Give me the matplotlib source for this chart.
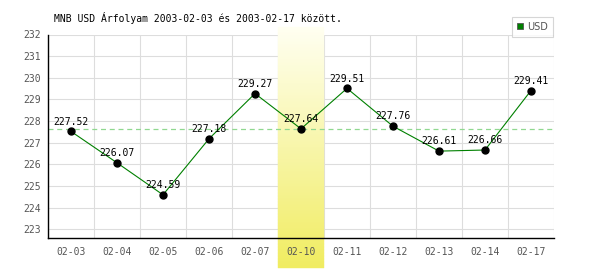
import matplotlib
matplotlib.use("Agg")
import matplotlib.pyplot as plt
import numpy as np
from matplotlib.lines import Line2D
from matplotlib.patches import Rectangle

dates = ["02-03", "02-04", "02-05", "02-06", "02-07", "02-10",
         "02-11", "02-12", "02-13", "02-14", "02-17"]
values = [227.52, 226.07, 224.59, 227.18, 229.27, 227.64,
          229.51, 227.76, 226.61, 226.66, 229.41]
highlight_index = 5
yticks = [223, 224, 225, 226, 227, 228, 229, 230, 231, 232]
title = "MNB USD Árfolyam 2003-02-03 és 2003-02-17 között."
series_name = "USD"

mono = "DejaVu Sans Mono"
W, H = 600, 270
fig = plt.figure(figsize=(6, 2.7), dpi=100)
ax = fig.add_axes([48 / W, 1 - 238.3 / H, (554 - 48) / W, (238.3 - 34.5) / H])

x = np.arange(len(dates))
ymin, ymax = 222.58, 232.0

# gridlines drawn manually, below the band
for t in yticks:
    ax.axhline(t, color="#dddddd", lw=0.8, zorder=0.5)
for b in np.arange(-0.5, len(dates)):
    ax.axvline(b, color="#dddddd", lw=0.8, zorder=0.5)

# highlight band with vertical gradient (strips), extends beyond the axes
band_top, band_bot = 232.35, 221.2
n = 80
top = np.array([255, 255, 242]) / 255.0
bot = np.array([240, 236, 96]) / 255.0
edges = np.linspace(band_top, band_bot, n + 1)
for i in range(n):
    f = (i + 0.5) / n
    c = top + (bot - top) * f
    ax.add_patch(Rectangle((highlight_index - 0.5, edges[i + 1]), 1.0, edges[i] - edges[i + 1],
                           facecolor=c, edgecolor=c, lw=0.3, clip_on=False, zorder=1))

# reference dashed line at the highlighted value
ax.axhline(values[highlight_index], color="#90d890", lw=0.9, ls=(0, (4, 3)), zorder=2)

ax.plot(x, values, color="#008000", lw=0.8, zorder=3)
ax.plot(x, values, "o", color="black", ms=5, zorder=4)
for xi, v in zip(x, values):
    ax.annotate(f"{v:.2f}", (xi, v), xytext=(0, 3.5), textcoords="offset points",
                ha="center", va="bottom", fontsize=7, family=mono, color="black", zorder=5)

ax.set_xlim(-0.5, len(dates) - 0.5)
ax.set_ylim(ymin, ymax)
ax.set_xticks(x)
ax.set_xticklabels(dates, family=mono, fontsize=7, color="#555555")
ax.set_yticks(yticks)
ax.set_yticklabels([str(t) for t in yticks], family=mono, fontsize=7, color="#555555")
ax.tick_params(axis="both", which="both", length=0)
ax.tick_params(axis="x", pad=6)
ax.tick_params(axis="y", pad=5)
ax.set_axisbelow(False)
ax.set_facecolor("none")
for s in ["top", "right"]:
    ax.spines[s].set_visible(False)
for s in ["left", "bottom"]:
    ax.spines[s].set_color("black")
    ax.spines[s].set_linewidth(1.0)
    ax.spines[s].set_zorder(6)

fig.text(54 / W, 1 - 18 / H, title, family=mono, fontsize=7, color="black",
         ha="left", va="center")

handle = Line2D([], [], marker="s", ls="none", markersize=5,
                markerfacecolor="#008000", markeredgecolor="#555555", markeredgewidth=0.6)
leg = fig.legend([handle], [series_name], loc="upper right",
                 bbox_to_anchor=(553 / W, 1 - 17 / H), bbox_transform=fig.transFigure,
                 fancybox=False, frameon=True, edgecolor="#cccccc", borderaxespad=0,
                 handlelength=0.8, handletextpad=0.3, borderpad=0.5,
                 prop={"family": "DejaVu Sans", "size": 7})
for t in leg.get_texts():
    t.set_color("#555555")
leg.get_frame().set_linewidth(0.8)

fig.savefig("out.png", dpi=100)
